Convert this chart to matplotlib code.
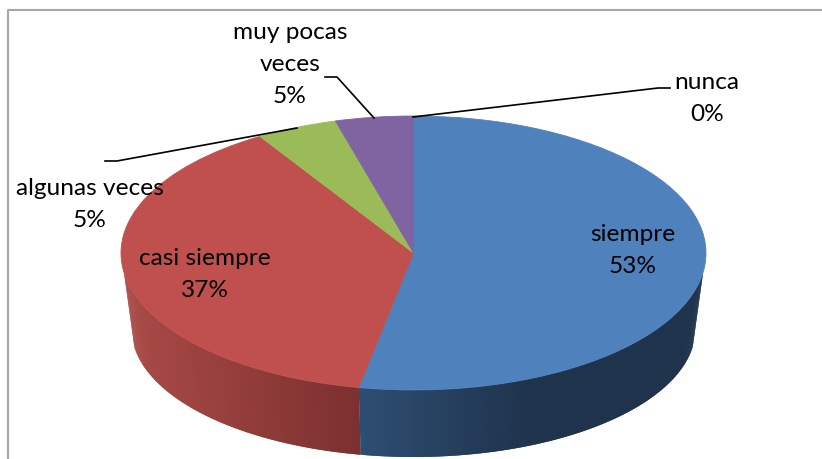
import matplotlib
matplotlib.use('Agg')
import matplotlib.pyplot as plt
import numpy as np

categorias = ['siempre', 'casi siempre', 'algunas veces', 'muy pocas veces', 'nunca']
# slice sizes as drawn, the printed percents are rounded differently
valores = [53.0, 38.2, 4.5, 4.3, 0]
colores = ['#4f81bd', '#c0504d', '#9bbb59', '#8064a2', '#4bacc6']

W, H = 822, 459
plt.rcParams['font.family'] = ['Lato', 'DejaVu Sans']


def fx(x):
    return x / W


def fy(y):
    return 1 - y / H


fig = plt.figure(figsize=(W / 100, H / 100), dpi=100)

# top ellipse of the pie fills this axes, wall hangs below it
ax = fig.add_axes([fx(121), fy(390), 585 / W, 274 / H])
wedges, _ = ax.pie(valores, colors=colores, startangle=90, counterclock=False,
                   radius=1, wedgeprops={'linewidth': 0, 'zorder': 3})
ax.set_aspect('auto')
ax.set_xlim(-1, 1)
ax.set_ylim(-1, 1)
for w, v in zip(wedges, valores):
    w.set_clip_on(False)
    if v > 0:
        w.set_edgecolor(w.get_facecolor())
        w.set_linewidth(0.6)

# side wall, thin strips so the shade can change along x
rx_b, ry_b, cy_b = 0.964, 0.934, -0.555
lado = {
    1: ([-1.0, -0.2], ['#aa4b47', '#7c302f']),
    0: ([-0.2, 0.4, 1.0], ['#2e4e73', '#1f334d', '#1f334d']),
}
for i, (xs, cols) in lado.items():
    ini = max(wedges[i].theta1, -172)
    fin = min(wedges[i].theta2, -8)
    rgb = np.array([matplotlib.colors.to_rgb(c) for c in cols])
    ts = np.linspace(ini, fin, 160)
    paso = ts[1] - ts[0]
    for a in ts[:-1]:
        # each strip runs under the next one so no seams show
        t = np.radians([a, min(a + 2 * paso, fin)])
        px = np.r_[np.cos(t), rx_b * np.cos(t[::-1])]
        py = np.r_[np.sin(t), cy_b + ry_b * np.sin(t[::-1])]
        xm = np.cos(np.radians(a + paso / 2))
        c = [np.interp(xm, xs, rgb[:, k]) for k in range(3)]
        ax.fill(px, py, color=c, lw=0, clip_on=False, zorder=2)

# chart frame, only left and top show
fig.add_artist(plt.Line2D([fx(7.5), fx(7.5), fx(822)], [fy(459), fy(9.5), fy(9.5)],
                          color='#a6a6a6', lw=1.5))

# leader lines
lineas = [
    ([105, 117, 297], [161, 161, 128]),
    ([325, 337, 374], [77, 77, 118]),
    ([670, 658, 413], [88, 88, 117]),
]
for xs, ys in lineas:
    fig.add_artist(plt.Line2D([fx(v) for v in xs], [fy(v) for v in ys], color='black', lw=1.2, zorder=5))

etiquetas = [
    ('siempre\n53%', 633, 250.5),
    ('casi siempre\n37%', 205, 274.5),
    ('algunas veces\n5%', 90, 204.5),
    ('muy pocas\nveces\n5%', 290, 64.5),
    ('nunca\n0%', 707, 98.5),
]
for txt, x, y in etiquetas:
    fig.text(fx(x), fy(y), txt, ha='center', va='center', fontsize=17.6, color='black',
             linespacing=1.65, zorder=6)

fig.savefig('out.png', dpi=100)
